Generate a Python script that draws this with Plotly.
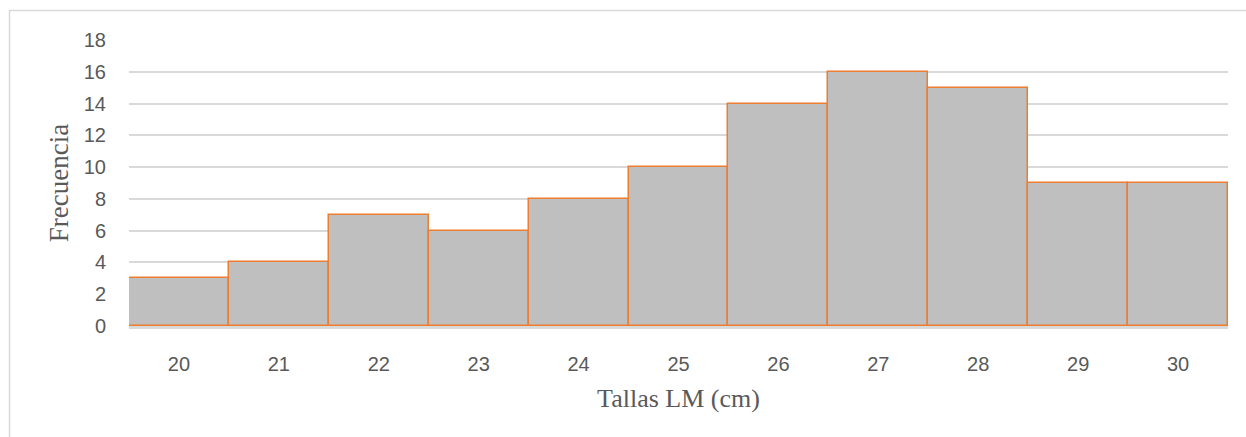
import plotly.graph_objects as go

# Size classes (cm) and observed frequency per class
tallas = [20, 21, 22, 23, 24, 25, 26, 27, 28, 29, 30]
frecuencia = [3, 4, 7, 6, 8, 10, 14, 16, 15, 9, 9]
y_ticks = [0, 2, 4, 6, 8, 10, 12, 14, 16, 18]

W, H = 1246, 437
L, R, T, B = 129, 18, 40, 111

SANS = "Liberation Sans, Arial"
SERIF = "Liberation Serif, Times New Roman"
TEXT = "#595959"
GRID = "#D9D9D9"

fig = go.Figure(
    go.Bar(
        x=tallas,
        y=frecuencia,
        width=1,
        marker=dict(color="#BFBFBF", line=dict(color="#ED7D31", width=1.5)),
        hoverinfo="x+y",
    )
)

pw = W - L - R
ph = H - T - B

fig.update_layout(
    width=W,
    height=H,
    margin=dict(l=L, r=R, t=T, b=B),
    paper_bgcolor="white",
    plot_bgcolor="white",
    bargap=0,
    showlegend=False,
    xaxis=dict(
        range=[19.5, 30.5],
        tickmode="array",
        tickvals=tallas,
        ticktext=[str(t) for t in tallas],
        showgrid=False,
        zeroline=False,
        # baseline drawn over the bars' bottom edges
        showline=True,
        linecolor=GRID,
        linewidth=2.5,
        layer="above traces",
        ticks="",
        ticklabelstandoff=18,
        tickfont=dict(family=SANS, size=20, color=TEXT),
        title=dict(
            text="Tallas LM (cm)",
            font=dict(family=SERIF, size=26, color=TEXT),
            standoff=16,
        ),
    ),
    yaxis=dict(
        range=[0, 18],
        tickmode="array",
        tickvals=y_ticks,
        showgrid=True,
        gridcolor=GRID,
        gridwidth=1.5,
        zeroline=False,
        showline=False,
        ticks="",
        ticklabelstandoff=22,
        tickfont=dict(family=SANS, size=20, color=TEXT),
        title=dict(
            text="Frecuencia",
            font=dict(family=SERIF, size=27, color=TEXT),
            standoff=7,
        ),
    ),
    shapes=[
        # chart frame: top and left edges
        dict(
            type="line", xref="paper", yref="paper",
            x0=(9 - L) / pw, x1=(W + 20 - L) / pw,
            y0=(H - B - 10.5) / ph, y1=(H - B - 10.5) / ph,
            line=dict(color=GRID, width=1.5), layer="below",
        ),
        dict(
            type="line", xref="paper", yref="paper",
            x0=(9.5 - L) / pw, x1=(9.5 - L) / pw,
            y0=(H - B - 10) / ph, y1=(H - B - H - 20) / ph,
            line=dict(color=GRID, width=1.5), layer="below",
        ),
    ],
)

fig.write_html("out.html")
